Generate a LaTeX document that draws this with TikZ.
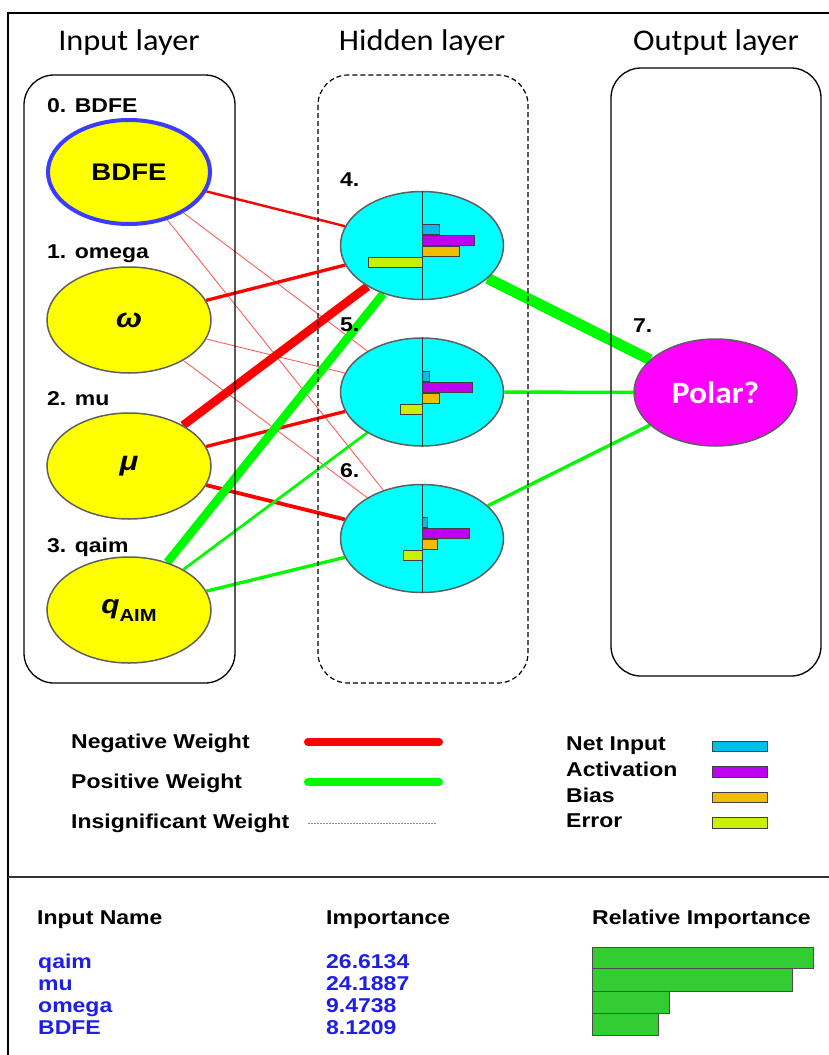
\documentclass[tikz,border=0pt]{standalone}
\usepackage{fontspec}
\setmainfont{Liberation Sans}
\newfontfamily\lab[FakeStretch=1.15]{Liberation Sans}
\newfontfamily\ttl[FakeStretch=1.08]{Carlito}
\usetikzlibrary{shapes.geometric,backgrounds}
\definecolor{cnet}{RGB}{0,190,235}
\definecolor{cact}{RGB}{190,0,240}
\definecolor{cbias}{RGB}{240,190,0}
\definecolor{cerr}{RGB}{200,240,0}
\definecolor{gbar}{RGB}{51,204,51}
\definecolor{tblue}{RGB}{30,30,230}
\definecolor{bdfeblue}{RGB}{60,60,255}
\definecolor{posgreen}{RGB}{0,250,0}
\definecolor{negred}{RGB}{255,0,0}
\definecolor{negthin}{RGB}{255,80,80}
\definecolor{ringgray}{RGB}{95,95,95}
\definecolor{hidcyan}{RGB}{0,255,255}
\definecolor{outmag}{RGB}{255,0,255}
\definecolor{inyellow}{RGB}{255,255,0}
\newcommand\mybars[5]{%
  \draw[barbox, fill=cnet]  ([shift={(0,-21)}]#1.center) rectangle ([shift={(#2,-11)}]#1.center);
  \draw[barbox, fill=cact]  ([shift={(0,-10)}]#1.center) rectangle ([shift={(#3,0)}]#1.center);
  \draw[barbox, fill=cbias] ([shift={(0,1)}]#1.center) rectangle ([shift={(#4,11)}]#1.center);
  \draw[barbox, fill=cerr]  ([shift={(-#5,12)}]#1.center) rectangle ([shift={(0,22)}]#1.center);
}
\begin{document}
\begin{tikzpicture}[x=1pt,y=-1pt,
  lbl/.style={anchor=base west, inner sep=0pt, font={\lab\bfseries\fontsize{20}{24}\selectfont}},
  ttlstyle/.style={anchor=base, inner sep=0pt, font={\ttl\fontsize{30}{36}\selectfont}},
  inp/.style={ellipse, draw=ringgray, line width=1.5pt, fill=inyellow, minimum width=164pt, minimum height=106pt, inner sep=0pt, font={\lab\bfseries\fontsize{22}{26}\selectfont}},
  hid/.style={ellipse, draw=ringgray, line width=1.5pt, fill=hidcyan, minimum width=163pt, minimum height=108pt, inner sep=0pt},
  outn/.style={ellipse, draw=ringgray, line width=1.5pt, fill=outmag, minimum width=163pt, minimum height=107pt, inner sep=0pt, text=white, font={\ttl\bfseries\fontsize{31}{34}\selectfont}},
  layerbox/.style={draw=black, line width=1.3pt, rounded corners=30pt},
  barbox/.style={draw=black!75, line width=0.8pt},
  negw/.style={draw=negred},
  negthinw/.style={draw=negthin, line width=0.8pt},
  posw/.style={draw=posgreen},
  tbl/.style={anchor=base west, inner sep=0pt, font={\lab\bfseries\fontsize{20}{24}\selectfont}},
  tblb/.style={tbl, text=tblue},
  gbarbox/.style={draw=black!70, line width=0.8pt, fill=gbar}
]
\useasboundingbox (0,0) rectangle (829,1055);

% frame
\coordinate (fA) at (8,1055);
\coordinate (fB) at (8,13);
\coordinate (fC) at (829,13);
\coordinate (sA) at (8,877);
\coordinate (sB) at (829,877);
\draw[line width=1.5pt] (fA) -- (fB) -- (fC);
\draw[line width=1.3pt, black!80] (sA) -- (sB);

% titles
\node[ttlstyle] (t1) at (129,50) {Input layer};
\node[ttlstyle] (t2) at (422,50) {Hidden layer};
\node[ttlstyle] (t3) at (716,50) {Output layer};

% layer boxes
\draw[layerbox] (24,75) rectangle (235,683);
\draw[layerbox, dash pattern=on 5pt off 3pt, line width=1.2pt] (318,75) rectangle (528,683);
\draw[layerbox] (611,68) rectangle (821,676);

% input nodes
\node[inp, draw=bdfeblue, line width=4pt, minimum width=162pt, minimum height=104pt, font={\lab\bfseries\fontsize{24}{28}\selectfont}] (i0) at (129,172) {BDFE};
\node[inp, font={\lab\bfseries\itshape\fontsize{27}{30}\selectfont}] (i1) at (129,320) {ω};
\node[inp, font={\lab\bfseries\itshape\fontsize{27}{30}\selectfont}] (i2) at (129,466) {μ};
\node[inp] (i3) at (129,610) {{\itshape\fontsize{26}{30}\selectfont q}\raisebox{-8pt}{\fontsize{17.5}{20}\selectfont AIM}};

\node[lbl] (l0) at (47,112) {0. BDFE};
\node[lbl] (l1) at (47,258) {1. omega};
\node[lbl] (l2) at (47,405) {2. mu};
\node[lbl] (l3) at (47,552) {3. qaim};

% hidden nodes
\node[hid] (h4) at (422,245.5) {};
\node[hid] (h5) at (422,392) {};
\node[hid] (h6) at (422,538.5) {};
\foreach \h in {h4,h5,h6} {\draw[line width=1pt, black!80] (\h.north) -- (\h.south);}
\mybars{h4}{17}{52}{37}{54}
\mybars{h5}{7}{50}{17}{22}
\mybars{h6}{5}{47}{15}{19}

\node[lbl] (l4) at (340,186) {4.};
\node[lbl] (l5) at (340,331) {5.};
\node[lbl] (l6) at (340,477) {6.};

% output node
\node[outn] (o7) at (715.5,392.5) {Polar?};
\node[lbl] (l7) at (633,332) {7.};

% connectors
\begin{scope}[on background layer]
\draw[negw, line width=2.4pt] (i0) -- (h4);
\draw[negthinw] (i0) -- (h5);
\draw[negthinw] (i0) -- (h6);
\draw[negw, line width=3.3pt] (i1) -- (h4);
\draw[negthinw] (i1) -- (h5);
\draw[negthinw] (i1) -- (h6);
\draw[negw, line width=8.5pt] (i2) -- (h4);
\draw[negw, line width=3.3pt] (i2) -- (h5);
\draw[negw, line width=3.8pt] (i2) -- (h6);
\draw[posw, line width=8.5pt] (i3) -- (h4);
\draw[posw, line width=2.7pt] (i3) -- (h5);
\draw[posw, line width=3.3pt] (i3) -- (h6);
\draw[posw, line width=11pt] (h4) -- (o7);
\draw[posw, line width=3.5pt] (h5) -- (o7);
\draw[posw, line width=3.3pt] (h6) -- (o7);
\end{scope}

% legend (weights)
\node[lbl] (lg1) at (71,748) {Negative Weight};
\node[lbl] (lg2) at (71,788) {Positive Weight};
\node[lbl] (lg3) at (71,828) {Insignificant Weight};
\coordinate (n1) at (308,742); \coordinate (n2) at (439,742);
\coordinate (p1) at (308,782); \coordinate (p2) at (439,782);
\coordinate (q1) at (308,823); \coordinate (q2) at (436,823);
\draw[negw, line width=8pt, line cap=round] (n1) -- (n2);
\draw[posw, line width=8pt, line cap=round] (p1) -- (p2);
\draw[black!45, line width=0.8pt, dash pattern=on 1.5pt off 1.5pt] (q1) -- (q2);

% legend (bars)
\node[lbl] (lb1) at (566,750) {Net Input};
\node[lbl] (lb2) at (566,776) {Activation};
\node[lbl] (lb3) at (566,802) {Bias};
\node[lbl] (lb4) at (566,827) {Error};
\draw[barbox, fill=cnet] (712,741) rectangle (767,751);
\draw[barbox, fill=cact] (712,766) rectangle (767,777);
\draw[barbox, fill=cbias] (712,792) rectangle (767,802);
\draw[barbox, fill=cerr] (712,817) rectangle (767,828);

% table
\node[tbl] (th1) at (37,924) {Input Name};
\node[tbl] (th2) at (326,924) {Importance};
\node[tbl] (th3) at (592,924) {Relative Importance};
\node[tblb] (r1a) at (38,968) {qaim};
\node[tblb] (r2a) at (38,990) {mu};
\node[tblb] (r3a) at (38,1012) {omega};
\node[tblb] (r4a) at (38,1034) {BDFE};
\node[tblb] (r1b) at (326,968) {26.6134};
\node[tblb] (r2b) at (326,990) {24.1887};
\node[tblb] (r3b) at (326,1012) {9.4738};
\node[tblb] (r4b) at (326,1034) {8.1209};
\draw[gbarbox] (592,947) rectangle (813,968);
\draw[gbarbox] (592,968) rectangle (792,991);
\draw[gbarbox] (592,991) rectangle (669,1013);
\draw[gbarbox] (592,1013) rectangle (658,1035);
\end{tikzpicture}
\end{document}
